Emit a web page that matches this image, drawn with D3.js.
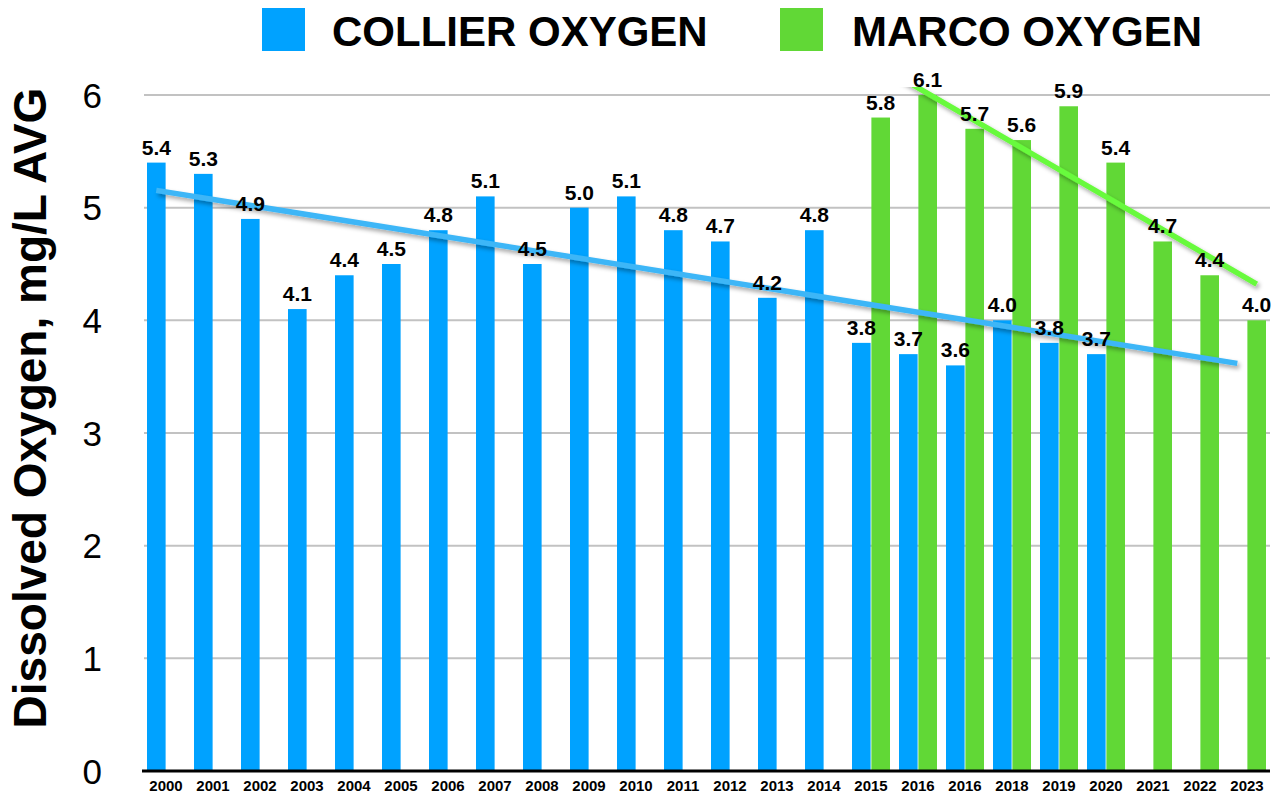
<!DOCTYPE html>
<html>
<head>
<meta charset="utf-8">
<script src="https://cdn.jsdelivr.net/npm/d3@7"></script>
<style>
  body { margin: 0; background: #fff; }
  text { font-family: "Liberation Sans", Arial, Helvetica, sans-serif; }
</style>
</head>
<body>
<script>
// year labels as printed on the chart (the 2017 slot really says 2016)
const years = ["2000", "2001", "2002", "2003", "2004", "2005", "2006", "2007",
  "2008", "2009", "2010", "2011", "2012", "2013", "2014", "2015", "2016",
  "2016", "2018", "2019", "2020", "2021", "2022", "2023"];

// dissolved oxygen, mg/L average (null = no reading that year)
const collier = [5.4, 5.3, 4.9, 4.1, 4.4, 4.5, 4.8, 5.1, 4.5, 5.0, 5.1, 4.8,
  4.7, 4.2, 4.8, 3.8, 3.7, 3.6, 4.0, 3.8, 3.7, null, null, null];
const marco = [null, null, null, null, null, null, null, null, null, null,
  null, null, null, null, null, 5.8, 6.1, 5.7, 5.6, 5.9, 5.4, 4.7, 4.4, 4.0];

const seriesNames = ["COLLIER OXYGEN", "MARCO OXYGEN"];
const yTicks = [0, 1, 2, 3, 4, 5, 6];

const width = 1272, height = 795;
const barColors = ["#00a2ff", "#61d836"];
const trendColors = ["#3db6f7", "#68fa3c"];

const svg = d3.select("body").append("svg")
  .attr("width", width)
  .attr("height", height);

// scales
const x0 = d3.scaleBand()
  .domain(d3.range(years.length))
  .range([142.5, 1270.5])
  .padding(0);

const x1 = d3.scaleBand()
  .domain([0, 1])
  .range([4.5, 42.5])
  .paddingInner(0.04);

const y = d3.scaleLinear()
  .domain([0, 6])
  .range([771, 95]);

// drop shadow for the trend lines
const defs = svg.append("defs");
defs.append("filter")
  .attr("id", "shadow")
  .attr("x", "-10%").attr("y", "-10%")
  .attr("width", "120%").attr("height", "130%")
  .append("feDropShadow")
  .attr("dx", 2).attr("dy", 3)
  .attr("stdDeviation", 2)
  .attr("flood-color", "#000")
  .attr("flood-opacity", 0.35);

defs.append("clipPath")
  .attr("id", "plot")
  .append("rect")
  .attr("x", 140).attr("y", y(6) - 8)
  .attr("width", 1135).attr("height", y(0) - y(6) + 8);

// gridlines
svg.append("g")
  .selectAll("line")
  .data(yTicks.filter(d => d > 0))
  .join("line")
  .attr("x1", 144).attr("x2", 1270)
  .attr("y1", d => y(d)).attr("y2", d => y(d))
  .style("stroke", "#c2c2c2")
  .style("stroke-width", 2);

// y tick labels
svg.append("g")
  .selectAll("text")
  .data(yTicks)
  .join("text")
  .attr("x", 102)
  .attr("y", d => y(d))
  .attr("dy", "0.36em")
  .attr("text-anchor", "end")
  .style("font-size", "35px")
  .text(d => d);

// y axis title
svg.append("text")
  .attr("transform", "translate(46,408) rotate(-90)")
  .attr("text-anchor", "middle")
  .style("font-size", "46px")
  .style("font-weight", "bold")
  .text("Dissolved Oxygen, mg/L AVG");

// bars
const series = [collier, marco];
const maxY = y.domain()[1];

series.forEach((vals, s) => {
  const pts = vals.map((v, i) => ({ i, v })).filter(d => d.v !== null);
  const g = svg.append("g");

  g.selectAll("rect")
    .data(pts)
    .join("rect")
    .attr("x", d => x0(d.i) + x1(s))
    .attr("width", x1.bandwidth())
    .attr("y", d => y(Math.min(d.v, maxY)))
    .attr("height", d => y(0) - y(Math.min(d.v, maxY)))
    .style("fill", barColors[s]);
});

// linear trend lines, fitted on the data and run across all years
series.forEach((vals, s) => {
  const pts = vals.map((v, i) => [i, v]).filter(d => d[1] !== null);
  const mx = d3.mean(pts, d => d[0]);
  const my = d3.mean(pts, d => d[1]);
  const slope = d3.sum(pts, d => (d[0] - mx) * (d[1] - my)) /
    d3.sum(pts, d => (d[0] - mx) * (d[0] - mx));
  const fit = i => my + slope * (i - mx);
  const ends = [0, years.length - 1];
  const cx = i => x0(i) + x1(s) + x1.bandwidth() / 2;

  svg.append("g")
    .attr("clip-path", "url(#plot)")
    .append("line")
    .attr("x1", cx(ends[0])).attr("y1", y(fit(ends[0])))
    .attr("x2", cx(ends[1])).attr("y2", y(fit(ends[1])))
    .attr("filter", "url(#shadow)")
    .style("stroke", trendColors[s])
    .style("stroke-width", 5.5);
});

// value labels above the bars
series.forEach((vals, s) => {
  const pts = vals.map((v, i) => ({ i, v })).filter(d => d.v !== null);
  svg.append("g")
    .selectAll("text")
    .data(pts)
    .join("text")
    .attr("x", d => x0(d.i) + x1(s) + x1.bandwidth() / 2)
    .attr("y", d => y(Math.min(d.v, maxY)) - 8)
    .attr("text-anchor", "middle")
    .style("font-size", "21px")
    .style("font-weight", "bold")
    .text(d => d3.format(".1f")(d.v));
});

// x axis baseline + year labels
svg.append("line")
  .attr("x1", 142).attr("x2", 1270)
  .attr("y1", y(0)).attr("y2", y(0))
  .style("stroke", "#000")
  .style("stroke-width", 3);

svg.append("g")
  .selectAll("text")
  .data(d3.range(years.length))
  .join("text")
  .attr("x", i => x0(i) + x0.bandwidth() / 2)
  .attr("y", 791)
  .attr("text-anchor", "middle")
  .style("font-size", "15px")
  .style("font-weight", "bold")
  .text(i => years[i]);

// legend
const legendX = [262, 780];
const legend = svg.append("g")
  .selectAll("g")
  .data(seriesNames)
  .join("g")
  .attr("transform", (d, i) => `translate(${legendX[i]},8)`);

legend.append("rect")
  .attr("width", 43).attr("height", 43)
  .style("fill", (d, i) => barColors[i]);

legend.append("text")
  .attr("x", (d, i) => i === 0 ? 70 : 72)
  .attr("y", 38)
  .style("font-size", "42px")
  .style("font-weight", "bold")
  .text(d => d);
</script>
</body>
</html>
